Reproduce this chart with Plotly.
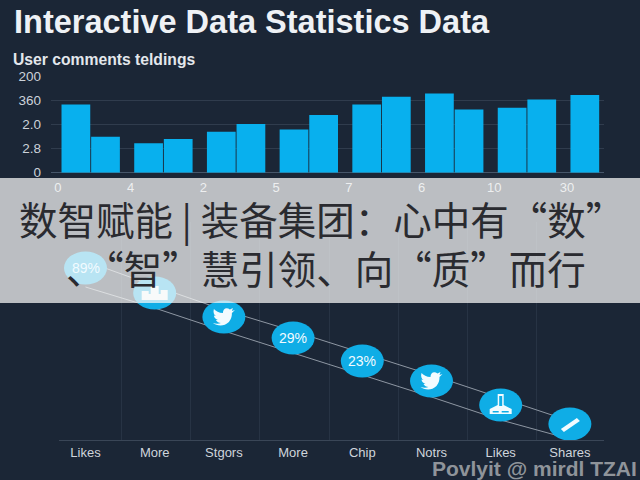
import plotly.graph_objects as go

BG = "#1b2636"
BLUE = "#08b0ee"
CIRCLE = "#0fade6"
SANS = "Liberation Sans"
CJK = "Noto Sans CJK SC"

# top bar chart
group_index = [0, 1, 2, 3, 4, 5, 6, 7]
group_labels = ["0", "4", "2", "5", "7", "6", "10", "30"]
bars_first = [2.82, 1.22, 1.69, 1.79, 2.82, 3.28, 2.69, 3.21]
bars_second = [1.49, 1.39, 2.01, 2.39, 3.14, 2.61, 3.03, None]
y_ticks = [0, 1, 2, 3, 4]
y_labels = ["0", "2.8", "2.0", "360", "200"]

# lower chart
categories = ["Likes", "More", "Stgors", "More", "Chip", "Notrs", "Likes", "Shares"]
circle_values = [172, 147, 123, 102, 79, 59, 35, 16]
upper_line = [179, 154, 130, 109, 87, 65, 42, 19]
lower_line = [153, 132, 109, 87, 65, 43, 20, 1]
circle_labels = ["89%", None, None, "29%", "23%", None, None, None]
circle_icons = [None, "sofa", "bird", None, None, "bird", "dock", "slash"]

title = "Interactive Data Statistics Data"
subtitle = "User comments teldings"
subtitle2 = "Viewer Eating Projections"
watermark = "Povlyit @ mirdl TZAI"
banner_line1 = "数智赋能 | 装备集团：心中有“数”"
banner_line2 = "、“智”慧引领、向“质”而行"

ICONS = {
    "bird": "M-11,-6 C-7,-9 0,-10 5,-5 C8,-1 8,2 8,4 L11,7 L8,6 L9,9 L6,7.5 C3,10 -1,9 -1,4 "
            "C-5,4 -8,6 -10,8 C-11,5 -10,2 -8,1 L-10,1.5 C-10,-1 -8,-2 -6,-3 L-8,-3 "
            "C-7,-5 -5,-6 -3,-6 C-5,-7 -8,-7 -11,-6 Z",
    "sofa": "M-13,-7 L-13,2 L-6,2 L-6,-1 L-4,-1 L-4,7 L4,7 L4,-1 L6,-1 L6,3 L13,3 L13,-7 Z",
    "dock": "M-3,11 L3,11 L3,0 L11,-4 L11,-9 L-11,-9 L-11,-4 L-3,0 Z "
            "M-1.5,9 L-1.5,-1 L1.5,-1 L1.5,9 Z M-8,-6 L-8,-7.5 L-2,-7.5 L-2,-6 Z M1,-6 L1,-7.5 L8,-7.5 L8,-6 Z",
    "slash": "M-9,-5 L7,6 L10,3 L-6,-8 Z",
}

fig = go.Figure()
fig.add_bar(x=group_index, y=bars_first, marker_color=BLUE, marker_line_width=0, showlegend=False)
fig.add_bar(x=group_index, y=bars_second, marker_color=BLUE, marker_line_width=0, showlegend=False)

slots = list(range(len(categories)))
line_style = dict(color="#8e97a3", width=1)
for series in (upper_line, lower_line):
    fig.add_scatter(x=slots, y=series, mode="lines", line=line_style, xaxis="x2", yaxis="y2",
                    showlegend=False, cliponaxis=False)
fig.add_scatter(x=slots, y=circle_values, mode="markers", marker=dict(color=CIRCLE, size=32),
                xaxis="x2", yaxis="y2", showlegend=False, cliponaxis=False)
fig.add_scatter(x=[-1.03], y=[210], mode="text", text=[subtitle2], textposition="middle right",
                textfont=dict(family=SANS, size=14.5, color="#ffffff"), xaxis="x2", yaxis="y2",
                showlegend=False, cliponaxis=False)

shapes = []
for s, v in zip(slots, circle_values):
    shapes.append(dict(type="circle", layer="above", xref="x2", yref="y2",
                       xsizemode="pixel", ysizemode="pixel", xanchor=s, yanchor=v,
                       x0=-21.5, x1=21.5, y0=-16.5, y1=16.5,
                       fillcolor=CIRCLE, line_width=0))
for s, v, icon in zip(slots, circle_values, circle_icons):
    if icon:
        shapes.append(dict(type="path", layer="above", xref="x2", yref="y2",
                           xsizemode="pixel", ysizemode="pixel", xanchor=s, yanchor=v,
                           path=ICONS[icon], fillcolor="#f2fbff", fillrule="evenodd", line_width=0))
shapes.append(dict(type="rect", layer="above", xref="paper", yref="paper",
                   x0=0, x1=1, y0=(480 - 303) / 480, y1=(480 - 178) / 480,
                   fillcolor="rgba(250,250,248,0.72)", line_width=0))

def px_x(v):
    return v / 640

def px_y(v):
    return (480 - v) / 480

def note(text, x, y, size, color, family=SANS, anchor="left", bold=False):
    return dict(text=f"<b>{text}</b>" if bold else text, xref="paper", yref="paper",
                x=px_x(x), y=px_y(y), xanchor=anchor, yanchor="middle", showarrow=False,
                font=dict(family=family, size=size, color=color))

annotations = [
    note(title, 12, 22, 32.5, "#eef1f5", bold=True),
    note(subtitle, 11, 59, 15.7, "#e3e7ec", bold=True),
    note(watermark, 639, 468, 21, "#8f949a", anchor="right", bold=True),
    note(banner_line1, 17, 218, 38.5, "#2a2b30", family=CJK),
    note(banner_line2, 64, 267, 38.5, "#2a2b30", family=CJK),
]
for s, v, label in zip(slots, circle_values, circle_labels):
    if label:
        annotations.append(dict(text=label, xref="x2", yref="y2", x=s, y=v, showarrow=False,
                                font=dict(family=SANS, size=14, color="#f2fbff")))

fig.update_layout(
    width=640, height=480, margin=dict(l=0, r=0, t=0, b=0),
    paper_bgcolor=BG, plot_bgcolor=BG, barmode="group", bargap=0.185, bargroupgap=0.03,
    font=dict(family=SANS), showlegend=False, shapes=shapes, annotations=annotations,
    xaxis=dict(domain=[51 / 640, 604 / 640], range=[-0.546, 7.06], tickmode="array", automargin=False,
               tickvals=[i - 0.45 for i in group_index], ticktext=group_labels,
               showgrid=False, zeroline=False, showline=False, ticks="", ticklabelstandoff=5,
               tickfont=dict(size=13, color="#cfd5dc"), anchor="y"),
    yaxis=dict(domain=[(480 - 172.7) / 480, (480 - 76) / 480], range=[0, 4], tickmode="array", automargin=False,
               tickvals=y_ticks, ticktext=y_labels, gridcolor="#303c4d", gridwidth=1,
               zeroline=True, zerolinecolor="#46566a", zerolinewidth=1, showline=False, ticks="",
               ticklabelstandoff=9, tickfont=dict(size=13.5, color="#ccd2da"), anchor="x"),
    xaxis2=dict(domain=[59 / 640, 604 / 640], range=[-0.383, 7.493], tickmode="array", automargin=False,
                tickvals=slots, ticktext=categories, showgrid=False, zeroline=False, showline=True,
                linecolor="#3a4657", linewidth=1, ticks="", ticklabelstandoff=0,
                tickfont=dict(size=13, color="#cfd5dc"),
                minor=dict(tickmode="array", tickvals=[i + 0.52 for i in slots[:-1]], showgrid=True,
                           gridcolor="#273344", gridwidth=1, ticks=""),
                anchor="y2"),
    yaxis2=dict(domain=[(480 - 440) / 480, (480 - 222) / 480], range=[0, 218], visible=False,
                showgrid=False, zeroline=False, anchor="x2", automargin=False),
)

fig.write_html("out.html", config=dict(displayModeBar=False),
               post_script="document.body.style.margin='0';document.body.style.background='#1b2636';")
